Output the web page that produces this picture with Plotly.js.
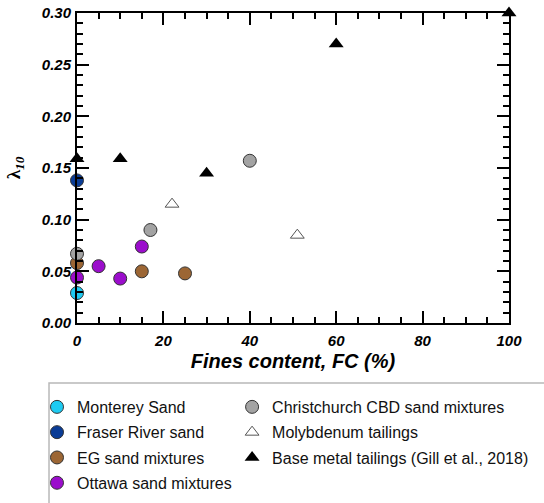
<!DOCTYPE html>
<html>
<head>
<meta charset="utf-8">
<script src="https://cdn.plot.ly/plotly-3.0.1.min.js"></script>
<style>html,body{margin:0;padding:0;background:#fff;}#chart{width:544px;height:503px;}</style>
</head>
<body>
<div id="chart"></div>
<script>
// Data (x = fines content FC %, y = lambda_10)
const montereyFC = [0];
const montereyL = [0.029];
const fraserFC = [0];
const fraserL = [0.138];
const egFC = [0, 15, 25];
const egL = [0.058, 0.050, 0.048];
const ottawaFC = [0, 5, 10, 15];
const ottawaL = [0.044, 0.055, 0.043, 0.074];
const christFC = [0, 17, 40];
const christL = [0.067, 0.090, 0.157];
const molyFC = [22, 51];
const molyL = [0.115, 0.085];
const baseFC = [0, 10, 30, 60, 100];
const baseL = [0.159, 0.159, 0.145, 0.270, 0.300];

const names = ['Monterey Sand', 'Fraser River sand', 'EG sand mixtures', 'Ottawa sand mixtures',
  'Christchurch CBD sand mixtures', 'Molybdenum tailings', 'Base metal tailings (Gill et al., 2018)'];

const circ = (color) => ({symbol: 'circle', size: 13, color: color, line: {color: '#333', width: 1}});

const traces = [
  {x: montereyFC, y: montereyL, name: names[0], marker: circ('#1ecbf2'), legend: 'legend'},
  {x: fraserFC, y: fraserL, name: names[1], marker: circ('#0a3c96'), legend: 'legend'},
  {x: egFC, y: egL, name: names[2], marker: circ('#9c6634'), legend: 'legend'},
  {x: ottawaFC, y: ottawaL, name: names[3], marker: circ('#9b0dcc'), legend: 'legend'},
  {x: christFC, y: christL, name: names[4], marker: circ('#a3a3a3'), legend: 'legend2'},
  {x: molyFC, y: molyL, name: names[5], marker: {symbol: 'triangle-up-open', size: 12, color: '#555', line: {width: 1}}, legend: 'legend2'},
  {x: baseFC, y: baseL, name: names[6], marker: {symbol: 'triangle-up', size: 13, color: '#000'}, legend: 'legend2'}
].map((t, i) => Object.assign({type: 'scatter', mode: 'markers', cliponaxis: false, legendgroup: 'g' + i}, t));

const tickFont = {family: 'Liberation Sans, Arial, sans-serif', size: 15, color: '#000', weight: 'bold', style: 'italic'};

const axisCommon = {
  showgrid: false, zeroline: false, showline: true, linecolor: '#000', linewidth: 2,
  mirror: 'allticks', ticks: 'inside', tickwidth: 2, tickcolor: '#000', ticklen: 12,
  tickfont: tickFont
};

const legendCommon = {
  font: {family: 'Liberation Sans, Arial, sans-serif', size: 16, color: '#111'},
  bgcolor: 'rgba(0,0,0,0)', borderwidth: 0, orientation: 'v',
  xanchor: 'left', yanchor: 'top', tracegroupgap: 1.5
};

const layout = {
  width: 544, height: 503,
  margin: {l: 77, r: 35, t: 13, b: 180, autoexpand: false},
  paper_bgcolor: '#fff', plot_bgcolor: '#fff',
  showlegend: true,
  xaxis: Object.assign({}, axisCommon, {
    range: [0, 100], dtick: 20, tick0: 0, ticklabelstandoff: 3,
    minor: {dtick: 5, ticks: 'inside', ticklen: 6, tickwidth: 2, tickcolor: '#000'},
    title: {text: 'Fines content, FC (%)', standoff: 6,
      font: {family: 'Liberation Sans, Arial, sans-serif', size: 20, color: '#000', weight: 'bold', style: 'italic'}}
  }),
  yaxis: Object.assign({}, axisCommon, {
    range: [0, 0.30], dtick: 0.05, tick0: 0, tickformat: '.2f', ticklabelstandoff: 1,
    minor: {dtick: 0.01, ticks: 'inside', ticklen: 6, tickwidth: 2, tickcolor: '#000'},
    title: {text: '<b>λ</b><sub><b><i>10</i></b></sub>', standoff: 16,
      font: {family: 'Liberation Serif, Times New Roman, serif', size: 19, color: '#000'}}
  }),
  legend: Object.assign({}, legendCommon, {x: -0.0926, y: -0.216}),
  legend2: Object.assign({}, legendCommon, {x: 0.359, y: -0.216}),
  shapes: [{type: 'rect', xref: 'paper', yref: 'paper', x0: -0.0648, x1: 1.2, y0: -0.1935, y1: -0.7,
    line: {color: '#b8b8b8', width: 1.5}, fillcolor: 'rgba(0,0,0,0)', layer: 'below'}]
};

Plotly.newPlot('chart', traces, layout, {displayModeBar: false, staticPlot: true});
</script>
</body>
</html>
